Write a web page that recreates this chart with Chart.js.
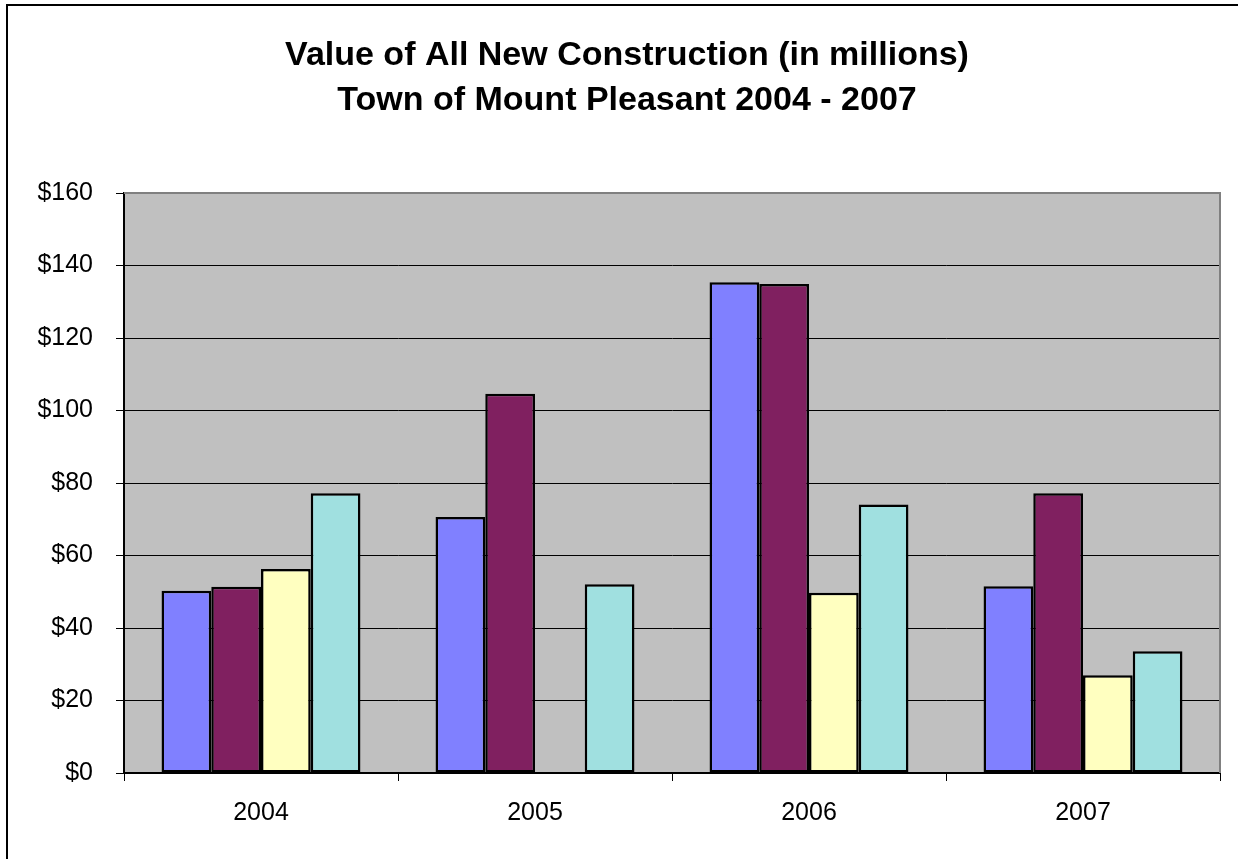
<!DOCTYPE html>
<html>
<head>
<meta charset="utf-8">
<script src="https://cdn.jsdelivr.net/npm/chart.js@4"></script>
<style>
  body { margin: 0; background: #fff; }
  #wrap { position: relative; width: 1238px; height: 859px; overflow: hidden; }
  #frame { position: absolute; left: 6px; top: 4px; width: 1300px; height: 900px;
           border-left: 2px solid #000; border-top: 2px solid #000; pointer-events: none; }
</style>
</head>
<body>
<div id="wrap">
  <canvas id="chart"></canvas>
  <div id="frame"></div>
</div>
<script>
// Dados
const years = ["2004", "2005", "2006", "2007"];
const serie1 = [50.3, 70.6, 135.4, 51.5];
const serie2 = [51.4, 104.6, 134.9, 77.2];
const serie3 = [56.3, null, 49.7, 27.0];
const serie4 = [77.2, 52.1, 74.1, 33.6];
const yTicks = [0, 20, 40, 60, 80, 100, 120, 140, 160];
const titulo = ["Value of All New Construction (in millions)", "Town of Mount Pleasant 2004 - 2007"];

const fonte = "'Liberation Sans', Arial, sans-serif";

// Fundo cinza, borda da área do gráfico e título
const plotArea = {
    id: "plotArea",
    beforeDraw(chart) {
        const { ctx, chartArea: a } = chart;
        ctx.save();
        ctx.fillStyle = "#C0C0C0";
        ctx.fillRect(a.left, a.top, a.right - a.left, a.bottom - a.top);
        ctx.restore();
    },
    beforeDatasetsDraw(chart) {
        const { ctx, chartArea: a } = chart;
        ctx.save();
        ctx.strokeStyle = "#808080";
        ctx.lineWidth = 2;
        ctx.beginPath();
        ctx.moveTo(a.left, a.top);
        ctx.lineTo(a.right, a.top);
        ctx.lineTo(a.right, a.bottom);
        ctx.stroke();
        ctx.restore();
    },
    afterDraw(chart) {
        const ctx = chart.ctx;
        ctx.save();
        ctx.fillStyle = "#000";
        ctx.font = "bold 34px " + fonte;
        ctx.textAlign = "center";
        ctx.textBaseline = "middle";
        titulo.forEach((linha, i) => ctx.fillText(linha, 627, 56 + i * 45));
        ctx.restore();
    }
};

function serie(label, data, cor) {
    return {
        label, data,
        backgroundColor: cor,
        borderColor: "#000",
        borderWidth: 2.5,
        borderSkipped: false,
        barPercentage: 1,
        categoryPercentage: 0.726
    };
}

new Chart(document.getElementById("chart"), {
    type: "bar",
    data: {
        labels: years,
        datasets: [
            serie("Série 1", serie1, "#8080FF"),
            serie("Série 2", serie2, "#802060"),
            serie("Série 3", serie3, "#FFFFC0"),
            serie("Série 4", serie4, "#A0E0E0")
        ]
    },
    options: {
        responsive: true,
        maintainAspectRatio: false,
        animation: false,
        layout: { padding: { left: 0, right: 18, top: 193, bottom: 0 } },
        plugins: {
            legend: { display: false },
            tooltip: { enabled: false },
            title: { display: false }
        },
        scales: {
            x: {
                grid: { offset: true, drawOnChartArea: false, drawTicks: true, tickLength: 8, color: "#000" },
                border: { color: "#000", width: 2 },
                ticks: { color: "#000", font: { family: fonte, size: 25 }, padding: 17, maxRotation: 0 },
                afterFit(scale) { scale.height = 86; }
            },
            y: {
                min: 0,
                max: 160,
                afterBuildTicks(scale) { scale.ticks = yTicks.map(v => ({ value: v })); },
                grid: {
                    color: c => c.tick && c.tick.value === 160 ? "#808080" : "#000",
                    tickColor: "#000",
                    lineWidth: 1,
                    tickLength: 8
                },
                border: { color: "#000", width: 2 },
                ticks: {
                    color: "#000",
                    font: { family: fonte, size: 25 },
                    padding: 23,
                    callback: v => "$" + v
                },
                afterFit(scale) { scale.width = 124; }
            }
        }
    },
    plugins: [plotArea]
});
</script>
</body>
</html>
